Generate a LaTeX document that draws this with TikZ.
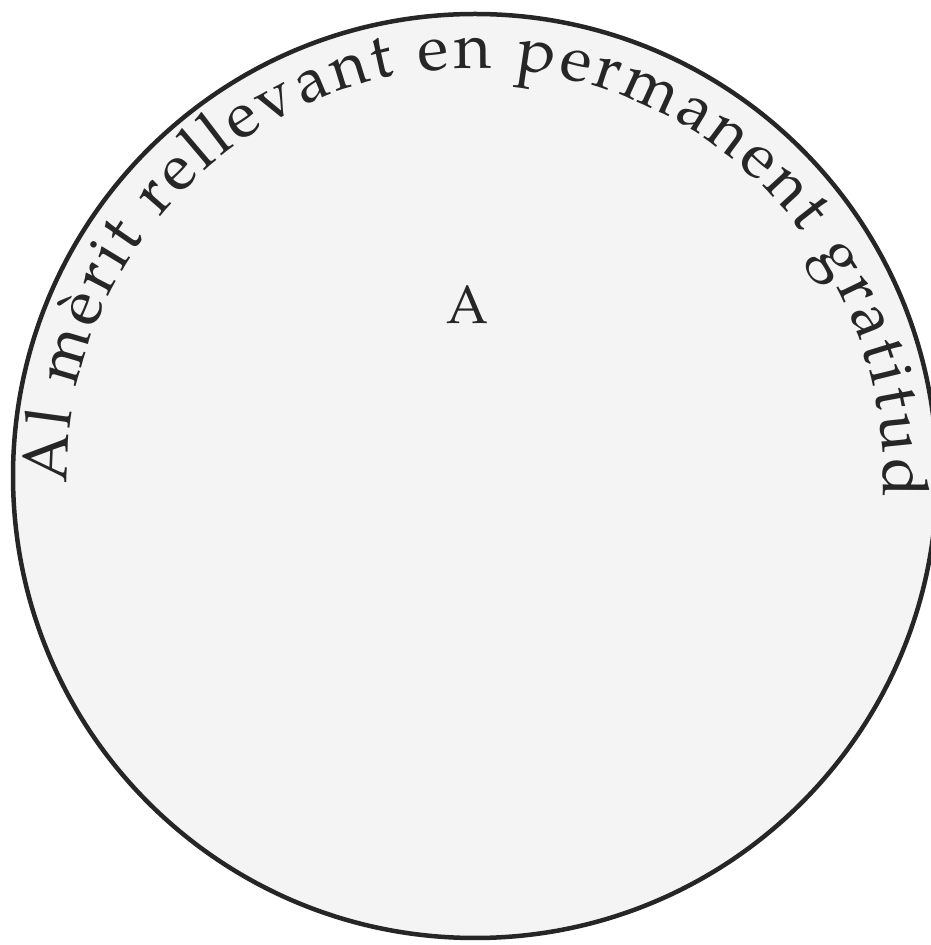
\documentclass[tikz,border=0pt]{standalone}
\usepackage{fontspec}
\setmainfont{TeX Gyre Pagella}
\usetikzlibrary{decorations.text}
\definecolor{ink}{HTML}{262626}
\definecolor{paper}{HTML}{F4F4F4}
\tikzset{
  rim/.style={draw=ink, line width=4.5pt, fill=paper},
  letter/.style={text=ink, font=\fontsize{54}{60}\selectfont}
}
\begin{document}
\begin{tikzpicture}[x=1pt,y=1pt]
\useasboundingbox (0,0) rectangle (931,945);
\coordinate (c) at (475,469);
\node[rim, circle, minimum size=924pt, inner sep=0pt] (disc) at (c) {};
\path[decorate, decoration={text along path,
    text align=fit to path,
    text color=ink,
    text={|\fontsize{64}{70}\selectfont|Al mèrit rellevant en permanent gratitud}}]
  ([shift={(181:408)}]c) arc[start angle=181, end angle=-3, radius=408];
\node[letter] (a) at (468,640) {A};
\end{tikzpicture}
\end{document}
